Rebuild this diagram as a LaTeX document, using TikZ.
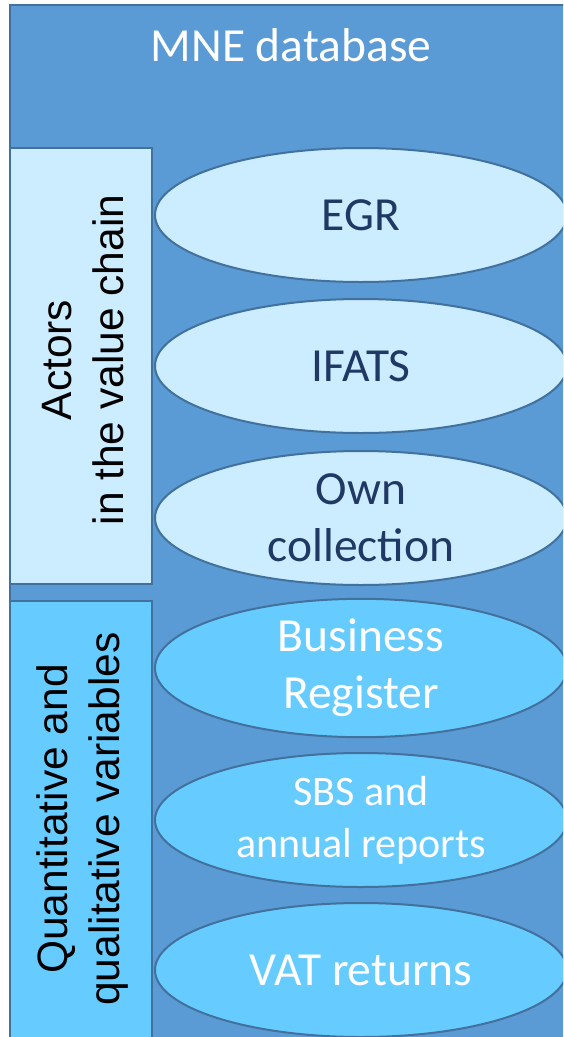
\documentclass[tikz,border=0pt]{standalone}
\usepackage{fontspec}
\setmainfont{Carlito}
\newfontfamily\arialfont{Liberation Sans}
\usetikzlibrary{shapes.geometric}
\definecolor{outerfill}{HTML}{5B9BD5}
\definecolor{outerline}{HTML}{41719C}
\definecolor{lightfill}{HTML}{CCECFF}
\definecolor{midfill}{HTML}{66CCFF}
\definecolor{navytext}{HTML}{1F3864}
\tikzset{
  outerbox/.style={fill=outerfill, draw=outerline, line width=2pt},
  sidebox/.style={draw=outerline, line width=1.5pt},
  sidetext/.style={rotate=90, align=center, text=black, font=\arialfont\fontsize{42.5}{52}\selectfont, inner sep=0pt},
  oval/.style={ellipse, draw=outerline, line width=2pt, minimum width=412pt, minimum height=134pt, inner sep=0pt, align=center, font=\fontsize{47.5}{57}\selectfont},
  upper/.style={oval, fill=lightfill, text=navytext},
  lower/.style={oval, fill=midfill, text=white},
}
\begin{document}
\begin{tikzpicture}[x=1pt,y=-1pt]
\useasboundingbox (0,0) rectangle (563,1037);
\clip (0,0) rectangle (563,1037);
\path[outerbox] (10,5) rectangle (600,1080);
\node[text=white, font=\fontsize{47.5}{57}\selectfont, inner sep=0pt] (title) at (291,45) {MNE database};
\path[sidebox, fill=lightfill] (10,148) rectangle (152,584);
\path[sidebox, fill=midfill] (10,601) rectangle (152,1080);
\node[sidetext] (actors) at (83,360) {Actors\\in the value chain};
\node[sidetext] (quant) at (83,819) {Quantitative and\\qualitative variables};
\node[upper] (egr) at (361,215) {EGR};
\node[upper] (ifats) at (361,366) {IFATS};
\node[upper] (own) at (361,518) {Own\\collection};
\node[lower] (br) at (361,668) {Business\\Register};
\node[lower, font=\fontsize{42}{52}\selectfont] (sbs) at (361,820) {SBS and\\annual reports};
\node[lower] (vat) at (361,970) {VAT returns};
\end{tikzpicture}
\end{document}
